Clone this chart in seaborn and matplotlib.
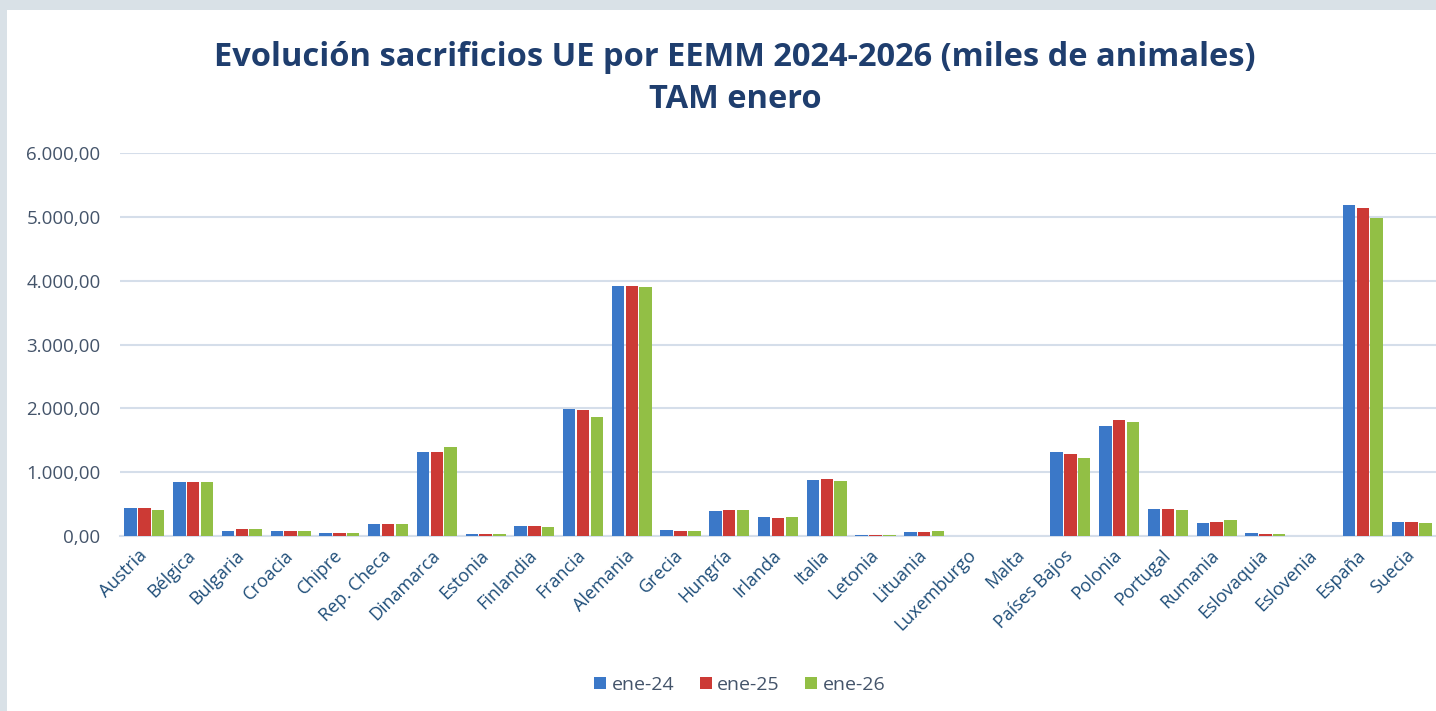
import numpy as np
import matplotlib.pyplot as plt
import matplotlib.patches as mpatches
from matplotlib.ticker import FuncFormatter
import seaborn as sns
import pandas as pd

sns.set_theme(style="white")
plt.rcParams["font.family"] = ["Open Sans", "DejaVu Sans"]

paises = ["Austria", "Bélgica", "Bulgaria", "Croacia", "Chipre", "Rep. Checa",
          "Dinamarca", "Estonia", "Finlandia", "Francia", "Alemania", "Grecia",
          "Hungría", "Irlanda", "Italia", "Letonia", "Lituania", "Luxemburgo",
          "Malta", "Países Bajos", "Polonia", "Portugal", "Rumania",
          "Eslovaquia", "Eslovenia", "España", "Suecia"]
series = ["ene-24", "ene-25", "ene-26"]

ene_24 = [433, 849, 78, 85, 42, 188, 1317, 32, 156, 1990, 3920, 94,
          387, 297, 880, 22, 55, 0, 0, 1317, 1719, 427, 203, 42, 0, 5192, 224]
ene_25 = [433, 849, 105, 85, 42, 188, 1317, 32, 156, 1980, 3920, 73,
          406, 277, 896, 22, 60, 0, 0, 1281, 1813, 427, 224, 27, 0, 5135, 224]
ene_26 = [406, 849, 105, 80, 42, 188, 1390, 32, 136, 1870, 3900, 73,
          406, 297, 860, 22, 80, 0, 0, 1223, 1786, 406, 250, 38, 0, 4979, 208]

colores = ["#3B78C8", "#CC3A35", "#92BF45"]
azul_txt = "#1F4E79"
gris_txt = "#44546A"

df = pd.DataFrame({
    "pais": paises * 3,
    "serie": np.repeat(series, len(paises)),
    "valor": ene_24 + ene_25 + ene_26,
})

fig = plt.figure(figsize=(14.36, 7.11), dpi=100)
fig.patch.set_facecolor("#D9E1E7")
# white chart area (Excel style frame)
fig.patches.append(mpatches.Rectangle((7 / 1436, 0), 1, 1 - 10 / 711,
                                      transform=fig.transFigure,
                                      facecolor="white", edgecolor="none",
                                      zorder=-5))

ax = fig.add_axes([120 / 1436, 1 - 536 / 711, 1316 / 1436, 383 / 711])
ax.set_facecolor("white")
ax.set_zorder(1)

sns.barplot(data=df, x="pais", y="valor", hue="serie", palette=colores,
            width=0.85, gap=0.1, saturation=1, linewidth=0, ax=ax, zorder=3)

ax.set_ylim(0, 6000)
ax.set_yticks(np.arange(0, 6001, 1000))
ax.yaxis.set_major_formatter(FuncFormatter(
    lambda v, p: f"{v:,.2f}".replace(",", "X").replace(".", ",").replace("X", ".")))
ax.grid(axis="y", color="#D5DEEA", lw=1.5, zorder=0)
for s in ["top", "right", "left"]:
    ax.spines[s].set_visible(False)
ax.spines["bottom"].set_color("#D5DEEA")
ax.spines["bottom"].set_linewidth(1.5)

ax.tick_params(axis="y", labelsize=13.5, labelcolor=gris_txt, length=0, pad=14)
ax.tick_params(axis="x", labelsize=13, labelcolor=azul_txt, length=0, pad=12)
plt.setp(ax.get_xticklabels(), rotation=45, ha="right", va="center",
         rotation_mode="anchor")
ax.set_xlabel("")
ax.set_ylabel("")

handles, labels = ax.get_legend_handles_labels()
ax.get_legend().remove()
fig.legend(handles, labels, loc="center", bbox_to_anchor=(740 / 1436, 1 - 685 / 711),
           ncol=3, frameon=False, fontsize=14, labelcolor=gris_txt,
           handlelength=0.6, handleheight=0.6, handletextpad=0.3,
           columnspacing=1.3)

fig.text(735 / 1436, 1 - 57 / 711,
         "Evolución sacrificios UE por EEMM 2024-2026 (miles de animales)",
         ha="center", va="center", fontsize=23.5, fontweight="bold", color="#1F3E6E")
fig.text(735 / 1436, 1 - 100 / 711, "TAM enero",
         ha="center", va="center", fontsize=23.5, fontweight="bold", color="#1F3E6E")

fig.savefig("out.png", dpi=100, facecolor=fig.get_facecolor())
